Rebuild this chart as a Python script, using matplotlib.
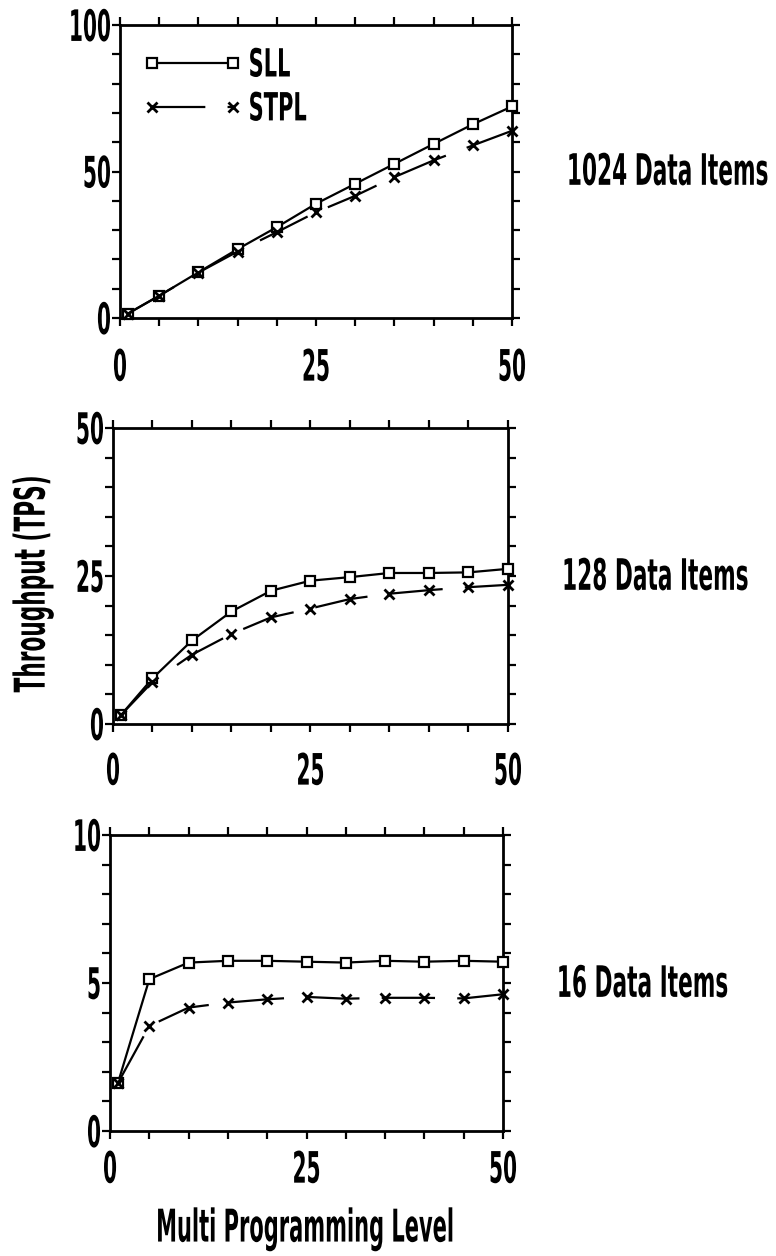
import matplotlib
matplotlib.use("Agg")
import matplotlib.pyplot as plt
from matplotlib.ticker import MultipleLocator, FixedLocator
from matplotlib.patheffects import AbstractPathEffect
from matplotlib.transforms import Affine2D

plt.rcParams['font.family'] = ['DejaVu Sans']
plt.rcParams['font.weight'] = 'bold'

# Multiprogramming levels
mpl_levels = [1, 5, 10, 15, 20, 25, 30, 35, 40, 45, 50]

# Throughput (TPS), 1024 data items
sll_1024 = [1.5, 7.6, 15.6, 23.5, 31.0, 39.0, 45.8, 52.6, 59.4, 66.1, 72.2]
stpl_1024 = [1.5, 7.6, 15.5, 22.7, 29.3, 36.1, 41.7, 48.1, 53.8, 58.9, 63.9]

# Throughput (TPS), 128 data items
sll_128 = [1.5, 7.7, 14.1, 19.0, 22.5, 24.2, 24.8, 25.5, 25.5, 25.6, 26.2]
stpl_128 = [1.5, 7.1, 11.7, 15.2, 18.0, 19.5, 21.1, 22.0, 22.6, 23.1, 23.5]

# Throughput (TPS), 16 data items
sll_16 = [1.62, 5.13, 5.69, 5.75, 5.75, 5.72, 5.69, 5.75, 5.72, 5.75, 5.72]
stpl_16 = [1.62, 3.55, 4.17, 4.34, 4.45, 4.53, 4.47, 4.50, 4.50, 4.48, 4.62]

panel_titles = ["1024 Data Items", "128 Data Items", "16 Data Items"]
y_limits = [100, 50, 10]
x_tick_labels = ["0", "25", "50"]
series_names = ["SLL", "STPL"]
x_label = "Multi Programming Level"
y_label = "Throughput (TPS)"


class Tall(AbstractPathEffect):
    """Stretch glyphs across the text direction for a tall, narrow face."""

    def __init__(self, sy=1.67, anchor='center'):
        super().__init__()
        self.sy = sy
        self.anchor = anchor

    def draw_path(self, renderer, gc, tpath, affine, rgbFace=None):
        ext = tpath.get_extents()
        if self.anchor == 'top':
            c = ext.y1
        elif self.anchor == 'baseline':
            c = 0.0
        else:
            c = 0.5 * (ext.y0 + ext.y1)
        t = Affine2D().translate(0, -c).scale(1, self.sy).translate(0, c) + affine
        renderer.draw_path(gc, tpath, t, rgbFace)


fig = plt.figure(figsize=(7.76, 12.56), dpi=100)

positions = [
    [0.1546, 0.7468, 0.5052, 0.2333],
    [0.1456, 0.4236, 0.5090, 0.2357],
    [0.1418, 0.0995, 0.5064, 0.2357],
]
title_xy = [(1.140, 0.502), (1.137, 0.50), (1.137, 0.50)]
x_pads = [16.4, 15.0, 8.5]
series = [(sll_1024, stpl_1024), (sll_128, stpl_128), (sll_16, stpl_16)]

TICK_FS, TICK_SY = 14.5, 2.15
for i, (pos, (sll, stpl), ymax, title) in enumerate(zip(positions, series, y_limits, panel_titles)):
    ax = fig.add_axes(pos)
    ax.plot(mpl_levels, sll, color='black', lw=1.6, marker='s', ms=7,
            mfc='white', mec='black', mew=1.6, label=series_names[0],
            clip_on=False, zorder=3)
    ax.plot(mpl_levels, stpl, color='black', lw=1.6, marker='x', ms=7,
            mew=2.0, dashes=(24, 10), label=series_names[1],
            clip_on=False, zorder=3)
    ax.set_xlim(0, 50)
    ax.set_ylim(0, ymax)
    ax.xaxis.set_major_locator(FixedLocator([0, 25, 50]))
    ax.set_xticklabels(x_tick_labels)
    ax.xaxis.set_minor_locator(MultipleLocator(5))
    ax.yaxis.set_major_locator(FixedLocator([0, ymax / 2, ymax]))
    ax.set_yticklabels([str(int(v)) for v in (0, ymax / 2, ymax)])
    ax.yaxis.set_minor_locator(MultipleLocator(ymax / 10))
    ax.tick_params(which='both', direction='out', length=5.5, width=1.6,
                   top=True, right=True, labelsize=TICK_FS)
    ax.tick_params(axis='x', which='major', pad=x_pads[i])
    ax.tick_params(axis='y', which='major', pad=1)
    for s in ax.spines.values():
        s.set_linewidth(2.0)
    for t in ax.xaxis.get_major_ticks():
        t.label1.set_path_effects([Tall(TICK_SY, 'top')])
    for t in ax.yaxis.get_major_ticks():
        t.label1.set_path_effects([Tall(TICK_SY, 'center')])
    ax.text(title_xy[i][0], title_xy[i][1], title, transform=ax.transAxes,
            fontsize=15.6, ha='left', va='center', clip_on=False,
            path_effects=[Tall(2.0, 'center')])
    if i == 0:
        leg = ax.legend(loc='upper left', bbox_to_anchor=(0.066, 0.901),
                        frameon=False, numpoints=2, handlelength=4.45,
                        handletextpad=0.45, labelspacing=1.14, fontsize=15.1,
                        borderaxespad=0, borderpad=0)
        for txt in leg.get_texts():
            txt.set_path_effects([Tall(1.85, 'center')])

fig.text(33 / 776, 1 - 584 / 1256, y_label, rotation=90, fontsize=15.6,
         ha='center', va='center', path_effects=[Tall(1.96, 'center')])
fig.text(305 / 776, 1 - 1229 / 1256, x_label, fontsize=15.1,
         ha='center', va='center', path_effects=[Tall(2.15, 'center')])

fig.savefig("out.png", dpi=100, facecolor='white')
